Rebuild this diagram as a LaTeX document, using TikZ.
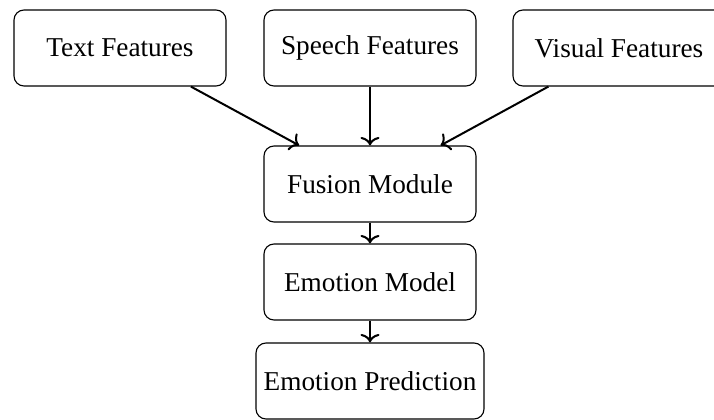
\documentclass[tikz,border=0pt]{standalone}
\usepackage{fontspec}
\setmainfont{Liberation Serif}
\usetikzlibrary{arrows.meta}
\begin{document}
\begin{tikzpicture}[x=0.4pt,y=-0.4pt,
  box/.style={draw,rounded corners=4pt,line width=0.45pt,minimum width=84.8pt,minimum height=30.4pt,inner sep=0pt,font=\fontsize{10.9}{13}\selectfont},
  conn/.style={-{Computer Modern Rightarrow[length=3.4pt,width=7.6pt]},line width=0.8pt}]
\useasboundingbox (0,0) rectangle (714,420);
\node[box] (text) at (120,48) {Text Features};
\node[box] (speech) at (370,48) {Speech Features};
\node[box] (visual) at (619,48) {Visual Features};
\node[box] (fusion) at (370,184) {Fusion Module};
\node[box] (model) at (370,282) {Emotion Model};
\node[box,minimum width=91.2pt] (pred) at (370,381) {Emotion Prediction};
\draw[conn] (text) -- (fusion);
\draw[conn] (speech) -- (fusion);
\draw[conn] (visual) -- (fusion);
\draw[conn] (fusion) -- (model);
\draw[conn] (model) -- (pred);
\end{tikzpicture}
\end{document}
